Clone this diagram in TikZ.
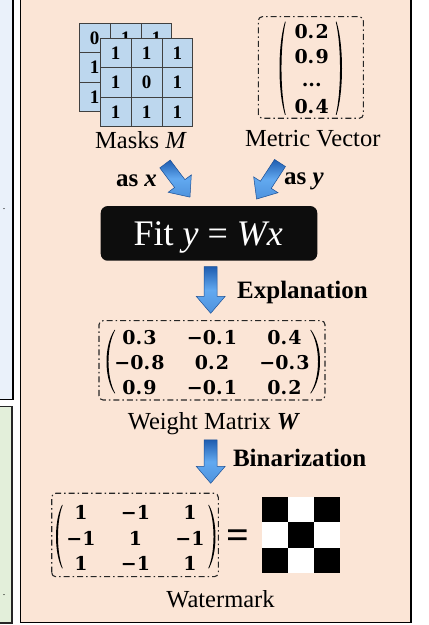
\documentclass[tikz,border=0pt]{standalone}
\usepackage{fontspec}
\setmainfont{Liberation Serif}
\newfontfamily\matfont{DejaVu Serif}
\newcommand\dpt{.\kern1.3pt}
\definecolor{peach}{HTML}{FBE5D6}
\definecolor{paleblue}{HTML}{EAF1FA}
\definecolor{palegreen}{HTML}{E3EFDA}
\definecolor{cellblue}{HTML}{BDD7EE}
\definecolor{arrowdark}{HTML}{1F5DB0}
\definecolor{arrowlight}{HTML}{62A9F0}
\tikzset{
  panel/.style={line width=1.6pt, draw=black},
  cell/.style={draw=black!75, line width=0.8pt, fill=cellblue},
  maskdigit/.style={font=\fontsize{19}{19}\selectfont\bfseries, inner sep=0pt},
  ent/.style={font=\matfont\fontsize{19}{19}\selectfont\bfseries, inner sep=0pt},
  dashbox/.style={draw=black!85, line width=1.1pt, rounded corners=4pt, dash pattern=on 6pt off 3pt on 1.5pt off 3pt},
  lbl/.style={font=\fontsize{24.5}{28}\selectfont, inner sep=0pt, anchor=base},
  blbl/.style={font=\fontsize{25}{28}\selectfont\bfseries, inner sep=0pt, anchor=base},
  barrowstyle/.style={draw=arrowdark!85!black, line width=0.5pt, top color=arrowdark, bottom color=arrowlight!70!arrowdark, middle color=arrowlight},
}
% block arrow: tail x, tail y, angle, length
\newcommand\blockarr[4]{%
  \begin{scope}[shift={(#1,#2)},rotate=#3]
    \path[barrowstyle] (0,-6.5) -- ({#4-17},-6.5) -- ({#4-17},-14.5) -- (#4,0)
      -- ({#4-17},14.5) -- ({#4-17},6.5) -- (0,6.5) -- cycle;
  \end{scope}}
% parenthesis: end x, bulge (signed), ytop, ybot, thickness (signed, inward)
\newcommand\mkparen[5]{%
  \fill[black] (#1,#3) .. controls ({#1+(#2)/0.75},{#3-0.25*(#3-#4)}) and ({#1+(#2)/0.75},{#4+0.25*(#3-#4)}) .. (#1,#4)
    -- ({#1+0.4*(#5)},#4) .. controls ({#1+((#2)+(#5))/0.75},{#4+0.25*(#3-#4)}) and ({#1+((#2)+(#5))/0.75},{#3-0.25*(#3-#4)}) .. ({#1+0.4*(#5)},#3) -- cycle;}
\begin{document}
\begin{tikzpicture}[x=1pt,y=1pt]
\useasboundingbox (0,0) rectangle (429,625);
\begin{scope}
\clip (0,0) rectangle (429,625);
% side panels
\path[panel, fill=paleblue] (-10,225.5) rectangle (12.8,640);
\path[panel, fill=palegreen, draw=black!85] (-10,2) rectangle (11.8,218.3);
\node[font=\fontsize{10}{10}\selectfont, inner sep=0pt, anchor=base] (dotA) at (4,415.8) {.};
\node[font=\fontsize{10}{10}\selectfont, inner sep=0pt, anchor=base] (dotB) at (4,29.8) {.};
% main panel
\path[panel, fill=peach] (20.5,2.5) rectangle (411,640);
\end{scope}

% masks: back grid
\foreach \r in {0,1,2}{\foreach \c in {0,1,2}{
  \path[cell] ({79.3+30.8*\c},{601.7-29.47*(\r+1)}) rectangle ({79.3+30.8*(\c+1)},{601.7-29.47*\r});}}
\node[maskdigit] (b00) at (94.7,587) {0};
\node[maskdigit] (b01) at (125.5,587) {1};
\node[maskdigit] (b02) at (156.3,587) {1};
\node[maskdigit] (b10) at (94.7,557.5) {1};
\node[maskdigit] (b20) at (94.7,528) {1};
% front grid
\foreach \r in {0,1,2}{\foreach \c in {0,1,2}{
  \path[cell] ({100.3+30.8*\c},{586.7-29.47*(\r+1)}) rectangle ({100.3+30.8*(\c+1)},{586.7-29.47*\r});}}
\foreach \r/\row in {0/{1,1,1},1/{1,0,1},2/{1,1,1}}{
  \foreach \v [count=\c from 0] in \row {
    \node[maskdigit] (f\r\c) at ({115.7+30.8*\c},{572-29.47*\r}) {\v};}}
\node[lbl] (masks) at (141,476) {Masks \textit{M}};

% metric vector
\path[dashbox] (258.3,506.7) rectangle (363.3,608.3);
\node[ent] (v1) at (311.7,593) {0\dpt2};
\node[ent] (v2) at (311.7,568) {0\dpt9};
\node[ent] (v3) at (311.7,540) {...};
\node[ent] (v4) at (311.7,518) {0\dpt4};
\mkparen{285}{-5.5}{603.3}{510}{1.8}
\mkparen{336.5}{5.5}{603.3}{510}{-1.8}
\node[lbl] (metric) at (312.7,478.3) {Metric Vector};

% arrows into fit
\blockarr{165}{461}{-53}{41.5}
\blockarr{280}{462}{-123}{43}
\node[blbl] (asx) at (136.5,438.3) {as \textit{x}};
\node[blbl] (asy) at (304,440) {as \textit{y}};

% fit box
\node[fill=black!95, rounded corners=7pt, minimum width=216.6pt, minimum height=54.7pt, inner sep=0pt] (fitbox) at (209,391.6) {};
\node[font=\fontsize{36}{40}\selectfont, text=white, inner sep=0pt, anchor=base] (fitlabel) at (208.3,379) {Fit \textit{y} = \textit{Wx}};

% explanation
\blockarr{210.7}{358.3}{-90}{46.6}
\node[blbl] (expl) at (302.5,326.7) {Explanation};

% weight matrix
\path[dashbox] (99,225) rectangle (325,304.3);
\foreach \r/\row in {0/{0\dpt3,−0\dpt1,0\dpt4},1/{−0\dpt8,0\dpt2,−0\dpt3},2/{0\dpt9,−0\dpt1,0\dpt2}}{
  \foreach \v [count=\c from 0] in \row {
    \pgfmathsetmacro\xx{139.5+72.5*\c}
    \node[ent] (w\r\c) at (\xx,{287.7-25*\r}) {\v};}}
\mkparen{114.5}{-8}{295}{231.7}{1.8}
\mkparen{311}{9}{295}{231.7}{-1.8}
\node[lbl] (wlabel) at (214,195.7) {Weight Matrix \textbf{\textit{W}}};

% binarization
\blockarr{210.7}{185}{-90}{43.3}
\node[blbl] (bin) at (299.7,158.3) {Binarization};

% watermark matrix
\path[dashbox] (51.7,48.3) rectangle (218.3,131.7);
\foreach \r/\row in {0/{1,−1,1},1/{−1,1,−1},2/{1,−1,1}}{
  \foreach \v [count=\c from 0] in \row {
    \pgfmathsetmacro\xx{81+54.5*\c}
    \node[ent] (m\r\c) at (\xx,{112.3-25.6*\r}) {\v};}}
\mkparen{62}{-6}{120}{56.7}{1.8}
\mkparen{209}{6.5}{120}{56.7}{-1.8}
\node[font=\fontsize{40}{40}\selectfont\bfseries, inner sep=0pt] (eq) at (238.3,86) {=};

% checkerboard
\foreach \r in {0,1,2}{\foreach \c in {0,1,2}{
  \pgfmathtruncatemacro\cpar{mod(\r+\c,2)}
  \ifnum\cpar=0
    \fill[black] ({261.7+26.1*\c},{128.3-25.53*(\r+1)}) rectangle ({261.7+26.1*(\c+1)},{128.3-25.53*\r});
  \else
    \fill[white] ({261.7+26.1*\c},{128.3-25.53*(\r+1)}) rectangle ({261.7+26.1*(\c+1)},{128.3-25.53*\r});
  \fi}}
\node[lbl] (wm) at (220.5,17.3) {Watermark};
\end{tikzpicture}
\end{document}
